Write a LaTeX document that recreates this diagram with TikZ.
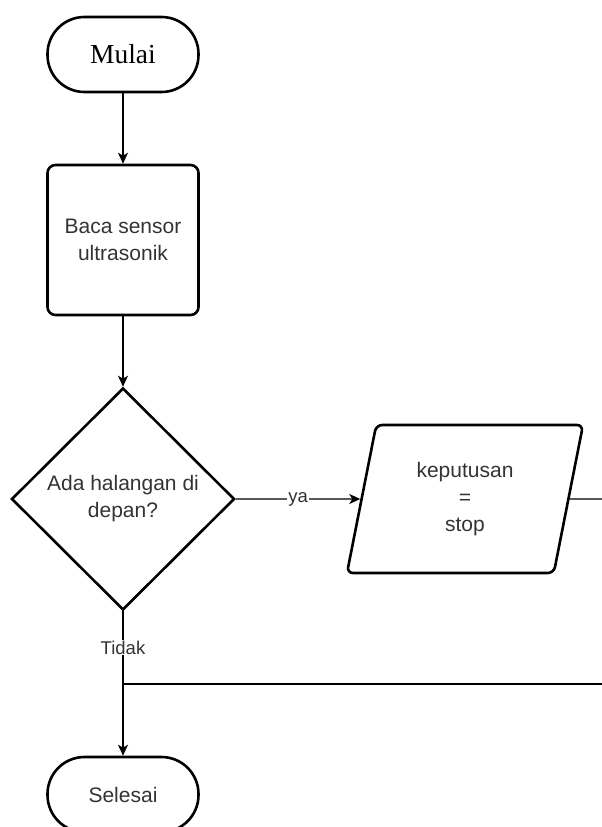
\documentclass[tikz,border=0pt]{standalone}
\usepackage{fontspec}
\setmainfont{Liberation Sans}
\newfontfamily\judulfont{Liberation Serif}
\usetikzlibrary{shapes.geometric,arrows.meta}
\definecolor{teksabu}{HTML}{333333}

\tikzset{
  terminal/.style={draw, line width=2.6pt, rounded corners=37pt,
    minimum width=151pt, minimum height=75pt, inner sep=0pt},
  proses/.style={draw, line width=2.6pt, rounded corners=8pt,
    minimum width=151pt, minimum height=150pt, align=center, text=teksabu},
  keputusanbox/.style={draw, diamond, aspect=1, line width=2.6pt,
    minimum width=223pt, minimum height=222pt, inner sep=0pt,
    align=center, text=teksabu},
  databox/.style={draw, trapezium, trapezium left angle=70,
    trapezium right angle=110, trapezium stretches body,
    line width=2.6pt, rounded corners=6pt, minimum width=236pt,
    minimum height=148pt, align=center, text=teksabu},
  alur/.style={line width=1.4pt, -{Stealth[length=11pt,width=10pt,inset=3pt]}},
  garis/.style={line width=1.4pt},
  cabang/.style={fill=white, text=teksabu, inner sep=1pt,
    font=\fontsize{18.5}{22}\selectfont},
}

\begin{document}
\begin{tikzpicture}[x=1pt, y=-1pt, font=\fontsize{21}{27}\selectfont]
  \clip (0,0) rectangle (602,827);
  % langkah-langkah
  \node[terminal, font=\judulfont\fontsize{27.5}{30}\selectfont] (mulai) at (123,54.5) {Mulai};
  \node[proses] (baca) at (123,240) {Baca sensor\\ultrasonik};
  \node[keputusanbox] (halangan) at (123,499) {Ada halangan di\\depan?};
  \node[databox] (stop) at (465,499) {keputusan\\=\\stop};
  \node[terminal, text=teksabu] (selesai) at (123,794.5) {Selesai};
  \coordinate (titik) at (123,684);
  \coordinate (kanan1) at (602,499);
  \coordinate (kanan2) at (602,684);
  % panah
  \draw[alur] (mulai) -- (baca);
  \draw[alur] (baca) -- (halangan);
  \draw[alur] (halangan) -- node[cabang] {ya} (stop);
  \draw[alur] (halangan) -- node[cabang, pos=0.25] {Tidak} (selesai);
  \draw[garis] (stop) -- (kanan1);
  \draw[garis] (titik) -- (kanan2);
\end{tikzpicture}
\end{document}
